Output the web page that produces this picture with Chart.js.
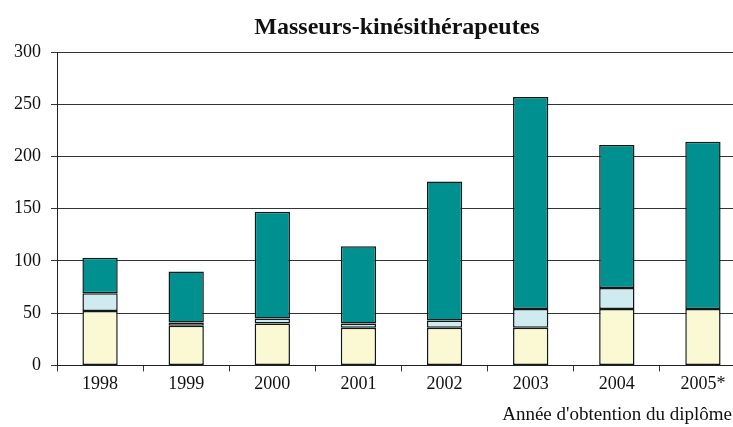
<!DOCTYPE html>
<html>
<head>
<meta charset="utf-8">
<script src="https://cdn.jsdelivr.net/npm/chart.js@4"></script>
<style>
  html, body { margin: 0; padding: 0; background: #fff; overflow: hidden; }
  #wrap { width: 733px; height: 427px; overflow: hidden; position: relative; }
</style>
</head>
<body>
<div id="wrap">
  <canvas id="chart" width="746" height="427"></canvas>
</div>
<script>
// values
const years = ['1998', '1999', '2000', '2001', '2002', '2003', '2004', '2005*'];
const bottomPart = [52, 38, 40, 36, 36, 36, 54, 54];
const middlePart = [17, 3, 5, 4, 7, 18, 20, 0];
const topPart = [34, 49, 102, 74, 133, 203, 137, 160];
const yTicks = [0, 50, 100, 150, 200, 250, 300];

const chartTitle = 'Masseurs-kinésithérapeutes';
const xAxisTitle = "Année d'obtention du diplôme";

const serif = '"Liberation Serif", "DejaVu Serif", serif';

function segment(values, color) {
    return {
        data: values,
        backgroundColor: color,
        borderColor: '#101818',
        borderWidth: 1.5,
        borderSkipped: false,
        barPercentage: 0.41,
        categoryPercentage: 1.0
    };
}

// title over the plot, axis title right-aligned on the window edge
const textPlugin = {
    id: 'texts',
    afterDraw(chart) {
        const ctx = chart.ctx;
        ctx.save();
        ctx.fillStyle = '#111';
        ctx.textBaseline = 'middle';
        ctx.font = 'bold 24px ' + serif;
        ctx.textAlign = 'center';
        ctx.fillText(chartTitle, 397, 28);
        ctx.font = '19px ' + serif;
        ctx.textAlign = 'right';
        ctx.fillText(xAxisTitle, 732, 415);
        ctx.restore();
    }
};

const ctx = document.getElementById('chart').getContext('2d');
new Chart(ctx, {
    type: 'bar',
    data: {
        labels: years,
        datasets: [
            segment(bottomPart, '#fbf8d4'),
            segment(middlePart, '#cfebf0'),
            segment(topPart, '#009090')
        ]
    },
    options: {
        responsive: false,
        animation: false,
        layout: { padding: { left: 0, right: 0, top: 52, bottom: 30 } },
        plugins: {
            legend: { display: false },
            tooltip: { enabled: false },
            title: { display: false }
        },
        scales: {
            x: {
                stacked: true,
                grid: {
                    display: true,
                    drawOnChartArea: false,
                    drawTicks: true,
                    tickLength: 6,
                    color: '#333',
                    offset: true
                },
                border: { display: true, color: '#222', width: 1 },
                ticks: {
                    color: '#111',
                    font: { family: serif, size: 18 },
                    padding: 2,
                    maxRotation: 0
                }
            },
            y: {
                stacked: true,
                min: 0,
                max: 300,
                afterBuildTicks(scale) {
                    scale.ticks = yTicks.map(v => ({ value: v }));
                },
                afterFit(scale) {
                    scale.width = 57;
                },
                grid: {
                    color: '#333',
                    lineWidth: 1,
                    drawTicks: true,
                    tickLength: 6
                },
                border: { display: true, color: '#222', width: 1 },
                ticks: {
                    color: '#111',
                    font: { family: serif, size: 18 },
                    padding: 10
                }
            }
        }
    },
    plugins: [textPlugin]
});
</script>
</body>
</html>
